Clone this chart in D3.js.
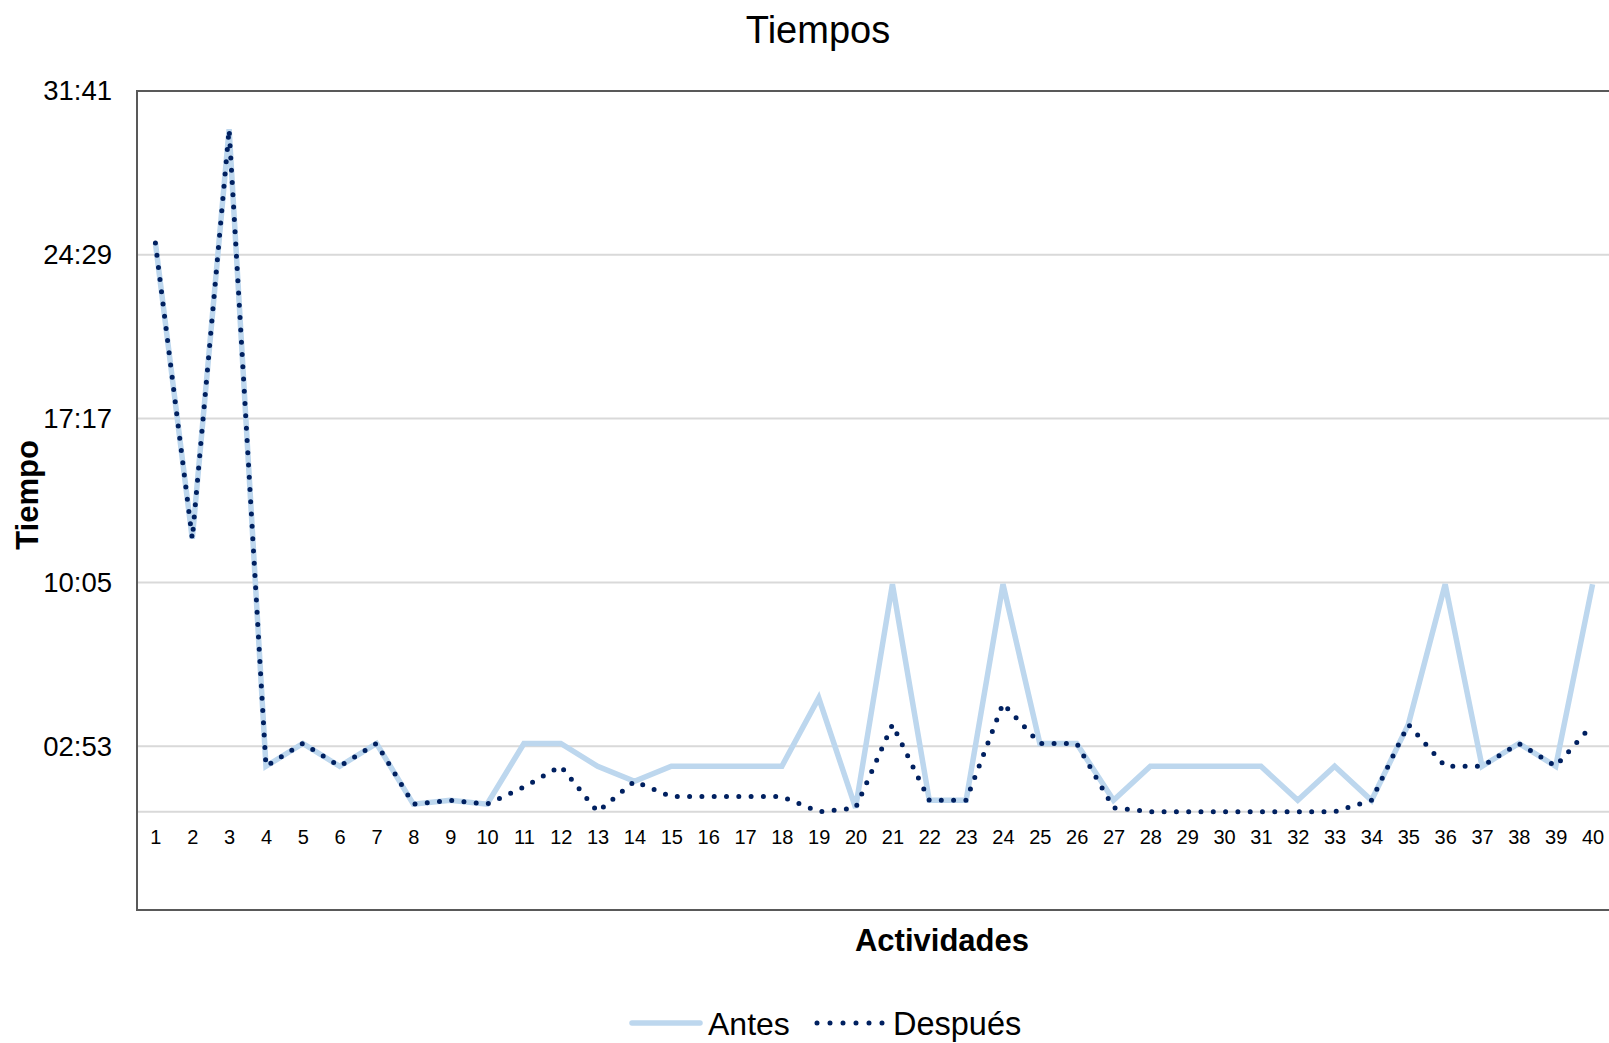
<!DOCTYPE html>
<html>
<head>
<meta charset="utf-8">
<script src="https://cdn.jsdelivr.net/npm/d3@7"></script>
<style>
  body { margin: 0; background: white; }
  text { font-family: "Liberation Sans", Arial, sans-serif; fill: #000; }
</style>
</head>
<body>
<div id="chart"></div>
<script>
// activities 1..40, times as mm:ss
var actividades = d3.range(1, 41).map(String);

var antes = ["25:00","12:00","30:00","2:00","3:00","2:00","3:00","0:20","0:30","0:20",
             "3:00","3:00","2:00","1:20","2:00","2:00","2:00","2:00","5:00","0:10",
             "10:00","0:30","0:30","10:00","3:00","3:00","0:30","2:00","2:00","2:00",
             "2:00","0:30","2:00","0:30","3:50","10:00","2:00","3:00","2:00","10:00"];

var despues = ["25:00","12:00","30:00","2:00","3:00","2:00","3:00","0:20","0:30","0:20",
               "1:05","2:00","0:00","1:20","0:40","0:40","0:40","0:40","0:00","0:10",
               "3:50","0:30","0:30","4:45","3:00","3:00","0:10","0:00","0:00","0:00",
               "0:00","0:00","0:00","0:30","3:50","2:00","2:00","3:00","2:00","3:50"];

// axis in Excel day fractions: min -0.003, max 0.022, major unit 0.005
var yMinDays = -0.003, yMaxDays = 0.022, yStepDays = 0.005;
var yTicks = d3.range(0, 5).map(function(i) { return (yMinDays + yStepDays * (i + 1)) * 86400; });

function toSec(str) {
    var p = str.split(":");
    return (+p[0]) * 60 + (+p[1]);
}
function fmt(s) {
    s = Math.round(s);
    var m = Math.floor(s / 60), r = s % 60;
    return (m < 10 ? "0" + m : m) + ":" + (r < 10 ? "0" + r : r);
}

function main() {
    var W = 1609, H = 1043;
    var plot = {left: 137, top: 91, right: 1611, bottom: 910};

    var svg = d3.select("#chart").append("svg")
        .attr("width", W)
        .attr("height", H);

    svg.append("rect")
        .attr("width", W)
        .attr("height", H)
        .attr("fill", "white");

    var xScale = d3.scalePoint().domain(actividades).range([plot.left, plot.right]).padding(0.5);
    var yScale = d3.scaleLinear().domain([yMinDays * 86400, yMaxDays * 86400]).range([plot.bottom, plot.top]);

    // gridlines
    svg.append("g")
        .selectAll("line")
        .data(yTicks.slice(0, -1).concat([0]))
        .join("line")
        .attr("x1", plot.left)
        .attr("x2", plot.right)
        .attr("y1", d => yScale(d))
        .attr("y2", d => yScale(d))
        .attr("stroke", "#d9d9d9")
        .attr("stroke-width", 2);

    // plot border
    svg.append("rect")
        .attr("x", plot.left)
        .attr("y", plot.top)
        .attr("width", plot.right - plot.left)
        .attr("height", plot.bottom - plot.top)
        .attr("fill", "none")
        .attr("stroke", "#595959")
        .attr("stroke-width", 2);

    // y axis labels
    var yAxis = svg.append("g")
        .attr("transform", "translate(" + (plot.left - 25) + ",0)")
        .call(d3.axisLeft(yScale).tickValues(yTicks).tickFormat(fmt).tickSize(0).tickPadding(0));
    yAxis.select(".domain").remove();
    yAxis.selectAll("text")
        .attr("font-size", "27.5px")
        .attr("font-family", "Liberation Sans, Arial, sans-serif")
        .attr("fill", "#000");

    // x axis labels (axis crosses at 0)
    var xAxis = svg.append("g")
        .attr("transform", "translate(0," + yScale(0) + ")")
        .call(d3.axisBottom(xScale).tickSize(0).tickPadding(18));
    xAxis.select(".domain").remove();
    xAxis.selectAll("text")
        .attr("font-size", "20px")
        .attr("font-family", "Liberation Sans, Arial, sans-serif")
        .attr("fill", "#000");

    var line = d3.line()
        .x((d, i) => xScale(actividades[i]))
        .y(d => yScale(toSec(d)));

    svg.append("path")
        .datum(antes)
        .attr("d", line)
        .attr("fill", "none")
        .attr("stroke", "#bdd7ee")
        .attr("stroke-width", 5.5)
        .attr("stroke-linejoin", "miter");

    svg.append("path")
        .datum(despues)
        .attr("d", line)
        .attr("fill", "none")
        .attr("stroke", "#002060")
        .attr("stroke-width", 5)
        .attr("stroke-linecap", "round")
        .attr("stroke-dasharray", "0 12.3");

    // titles
    svg.append("text")
        .attr("x", 818)
        .attr("y", 43)
        .attr("text-anchor", "middle")
        .attr("font-size", "38px")
        .text("Tiempos");

    svg.append("text")
        .attr("x", 942)
        .attr("y", 951)
        .attr("text-anchor", "middle")
        .attr("font-size", "31px")
        .attr("font-weight", "bold")
        .text("Actividades");

    svg.append("text")
        .attr("transform", "translate(38,495) rotate(-90)")
        .attr("text-anchor", "middle")
        .attr("font-size", "31px")
        .attr("font-weight", "bold")
        .text("Tiempo");

    // legend
    var legend = svg.append("g");
    legend.append("line")
        .attr("x1", 632).attr("x2", 700)
        .attr("y1", 1023).attr("y2", 1023)
        .attr("stroke", "#bdd7ee")
        .attr("stroke-width", 5.5)
        .attr("stroke-linecap", "round");
    legend.append("text")
        .attr("x", 708).attr("y", 1035)
        .attr("font-size", "32px")
        .text("Antes");
    legend.append("line")
        .attr("x1", 817).attr("x2", 883)
        .attr("y1", 1023).attr("y2", 1023)
        .attr("stroke", "#002060")
        .attr("stroke-width", 5)
        .attr("stroke-linecap", "round")
        .attr("stroke-dasharray", "0 13");
    legend.append("text")
        .attr("x", 893).attr("y", 1035)
        .attr("font-size", "32.5px")
        .text("Después");
}

main();
</script>
</body>
</html>
